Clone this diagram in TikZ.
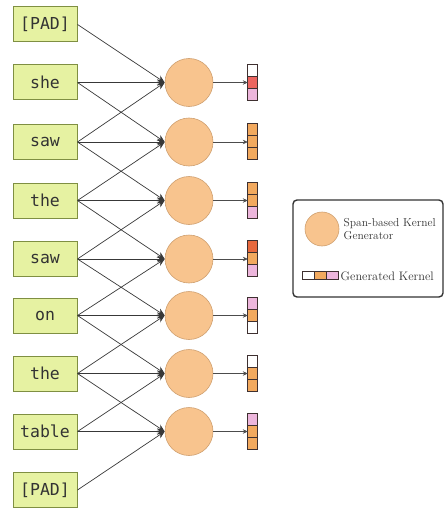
\documentclass[tikz,border=0pt]{standalone}
\usepackage{fontspec}
\newfontfamily\wordfont{DejaVu Sans Mono}
\usetikzlibrary{arrows.meta}
\definecolor{wordfill}{HTML}{E6F2A2}
\definecolor{wordline}{HTML}{7F8F42}
\definecolor{genfill}{HTML}{F8C48E}
\definecolor{genline}{HTML}{CFA070}
\definecolor{korange}{HTML}{F2A95E}
\definecolor{kred}{HTML}{EC6560}
\definecolor{kredor}{HTML}{E8693E}
\definecolor{kpink}{HTML}{EDB6DC}
\definecolor{kline}{HTML}{3E3030}
\begin{document}
\begin{tikzpicture}[x=1pt,y=-1pt,
 wordbox/.style={draw=wordline, line width=1pt, fill=wordfill, minimum width=64pt, minimum height=35pt, inner sep=0pt, font=\wordfont\fontsize{16.5}{18}\selectfont, text=black!80},
 gen/.style={circle, draw=genline, line width=0.6pt, fill=genfill, minimum size=48pt, inner sep=0pt},
 kern/.style={rectangle, minimum width=10pt, minimum height=36pt, inner sep=0pt},
 cell/.style={draw=kline, line width=0.9pt},
 feed/.style={draw=black!78, line width=0.7pt, -{Stealth[length=7.5pt,width=6.5pt]}},
 outarr/.style={draw=black!70, line width=0.6pt, -{Stealth[length=5pt,width=4.5pt]}},
 legtext/.style={anchor=west, align=left, text=black!80, font=\fontsize{11.5}{13.5}\selectfont, inner sep=0pt},
]
\useasboundingbox (0,0) rectangle (445,508);
% words
\foreach \i/\y/\t in {0/24.5/{[PAD]},1/82.5/she,2/142/saw,3/200.5/the,4/259/saw,5/315.5/on,6/373.5/the,7/431.5/table,8/490/{[PAD]}}
  {\node[wordbox] (w\i) at (45,\y) {\t};}
% generators and kernels
\foreach \i/\y/\ca/\cb/\cc in {1/82.5/white/kred/kpink,2/142/korange/korange/korange,3/200.5/korange/korange/kpink,4/259/kredor/korange/kpink,5/315.5/kpink/korange/white,6/373.5/white/korange/korange,7/431.5/kpink/korange/korange}
{
  \node[gen] (g\i) at (189,\y) {};
  \node[kern] (k\i) at (253,\y) {};
  \draw[cell, fill=\ca] (k\i.north west) rectangle ++(10,12);
  \draw[cell, fill=\cb] ([yshift=-12pt]k\i.north west) rectangle ++(10,12);
  \draw[cell, fill=\cc] ([yshift=-24pt]k\i.north west) rectangle ++(10,12);
  \draw[outarr] (g\i.east) -- (k\i.west);
}
% feeds
\foreach \i in {1,...,7}
{
  \pgfmathtruncatemacro\a{\i-1}
  \pgfmathtruncatemacro\b{\i+1}
  \draw[feed] (w\a.east) -- (g\i.west);
  \draw[feed] (w\i.east) -- (g\i.west);
  \draw[feed] (w\b.east) -- (g\i.west);
}
% legend
\node[draw=black!80, rounded corners=4pt, line width=1.4pt, minimum width=150pt, minimum height=97pt, inner sep=0pt] (leg) at (368,248.5) {};
\node[gen, minimum size=34pt] (lg) at (322,229) {};
\node[legtext] (lgt) at (343.5,229) {Span-based Kernel\\Generator};
\node[kern, minimum width=36pt, minimum height=8pt] (lk) at (321,276) {};
\draw[cell, fill=white] (lk.north west) rectangle ++(12,8);
\draw[cell, fill=korange] ([xshift=12pt]lk.north west) rectangle ++(12,8);
\draw[cell, fill=kpink] ([xshift=24pt]lk.north west) rectangle ++(12,8);
\node[legtext, font=\fontsize{12.3}{14}\selectfont] (lkt) at (340.5,276) {Generated Kernel};
\end{tikzpicture}
\end{document}
